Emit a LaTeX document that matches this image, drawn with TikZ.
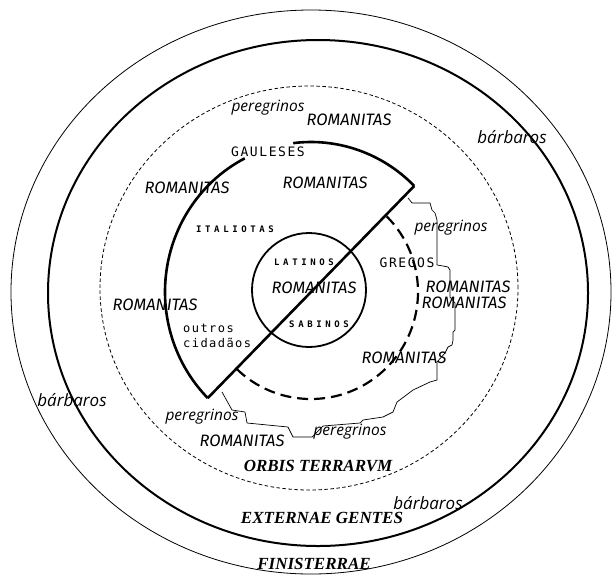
\documentclass[tikz,border=0pt]{standalone}
\usepackage{fontspec}
\setmainfont{Liberation Serif}
\newfontfamily\romfont{Fira Sans}
\newfontfamily\peregfont{Open Sans}
\newfontfamily\povofont[LetterSpace=12]{DejaVu Sans Mono}
\newfontfamily\povosmall[LetterSpace=40]{DejaVu Sans Mono}
\usetikzlibrary{calc}

\begin{document}
\begin{tikzpicture}[x=1pt, y=1pt,
  roman/.style={font=\romfont\itshape\fontsize{16.5}{16.5}\selectfont, inner sep=0pt},
  pereg/.style={font=\peregfont\itshape\fontsize{15.5}{15.5}\selectfont, inner sep=0pt},
  barb/.style={font=\peregfont\itshape\fontsize{17}{17}\selectfont, inner sep=0pt},
  povo/.style={font=\povofont\fontsize{13}{15}\selectfont, inner sep=0pt},
  povosm/.style={font=\povosmall\bfseries\fontsize{9}{9}\selectfont, inner sep=0pt},
  regio/.style={font=\bfseries\itshape\fontsize{17}{17}\selectfont, inner sep=0pt},
  limes/.style={line width=0.8pt},
  thickline/.style={line width=2.6pt},
  border/.style={line width=0.7pt, line join=round}
]
\useasboundingbox (0,0) rectangle (612,-576);

% centres
\coordinate (c) at (311,-292);

% outer rings
\draw[limes] (311,-292) ellipse [x radius=300, y radius=282];
\draw[line width=2pt] (318,-293) ellipse [x radius=270, y radius=253];
\draw[limes, dash pattern=on 3.5pt off 2.5pt] (309,-288) ellipse [x radius=209, y radius=202];

% Italia
\draw[thickline] ($(c)+(45:146 and 150)$) arc [start angle=45, end angle=97, x radius=146, y radius=150];
\draw[thickline] ($(c)+(117:146 and 150)$) arc [start angle=117, end angle=225, x radius=146, y radius=150];
\draw[thickline, line join=miter] ($(c)+(45:146 and 150)$) -- ($(c)+(225:146 and 150)$);
\draw[line width=2.2pt, dash pattern=on 11pt off 6pt] ($(c)+(45:107)$) arc [start angle=45, end angle=-135, radius=107];

% Latium
\draw[line width=1.8pt] (309,-290) circle [radius=57];

% fines
\draw[border] (408,-198) -- (412,-203) -- (430,-203) -- (432,-210) -- (435,-213) -- (437,-220)
  -- (437,-265) -- (443,-266) -- (448,-267) -- (450,-270) -- (450,-297) -- (455,-303)
  -- (455,-330) -- (453,-332) -- (453,-340) -- (452,-345) -- (448,-347) -- (445,-353)
  -- (437,-362) -- (437,-380) -- (430,-382) -- (413,-390) -- (397,-402) -- (393,-412)
  -- (383,-417) -- (363,-420) -- (360,-423) -- (323,-426) -- (312,-437) -- (293,-437)
  -- (288,-427) -- (247,-423) -- (245,-412) -- (232,-410) -- (222,-392);

% textus
\node[pereg] (per1) at (268,-108) {peregrinos};
\node[roman] (rom1) at (349,-120) {ROMANITAS};
\node[barb] (bar1) at (512,-137) {bárbaros};
\node[povo] (gal) at (268,-152) {GAULESES};
\node[roman] (rom2) at (187,-188) {ROMANITAS};
\node[roman] (rom3) at (325,-183) {ROMANITAS};
\node[povosm] (ital) at (235,-229) {ITALIOTAS};
\node[pereg] (per2) at (451,-228) {peregrinos};
\node[povosm] (lat) at (304,-262) {LATINOS};
\node[povo] (gre) at (407,-263) {GREGOS};
\node[roman] (rom4) at (314,-288) {ROMANITAS};
\node[roman] (rom5) at (468,-287) {ROMANITAS};
\node[roman] (rom6) at (464,-303) {ROMANITAS};
\node[roman] (rom7) at (155,-305) {ROMANITAS};
\node[povosm] (sab) at (319,-324) {SABINOS};
\node[povo, font=\povofont\fontsize{12}{15}\selectfont, align=left, anchor=west] (civ) at (183,-336) {outros\\cidadãos};
\node[roman] (rom8) at (404,-358) {ROMANITAS};
\node[barb] (bar2) at (72,-400) {bárbaros};
\node[pereg] (per3) at (202,-417) {peregrinos};
\node[roman] (rom9) at (242,-441) {ROMANITAS};
\node[pereg] (per4) at (350,-432) {peregrinos};
\node[regio] (orbis) at (318,-466) {ORBIS TERRARVM};
\node[barb] (bar3) at (428,-503) {bárbaros};
\node[regio] (ext) at (322,-518) {EXTERNAE GENTES};
\node[regio] (fin) at (314,-564) {FINISTERRAE};
\end{tikzpicture}
\end{document}
